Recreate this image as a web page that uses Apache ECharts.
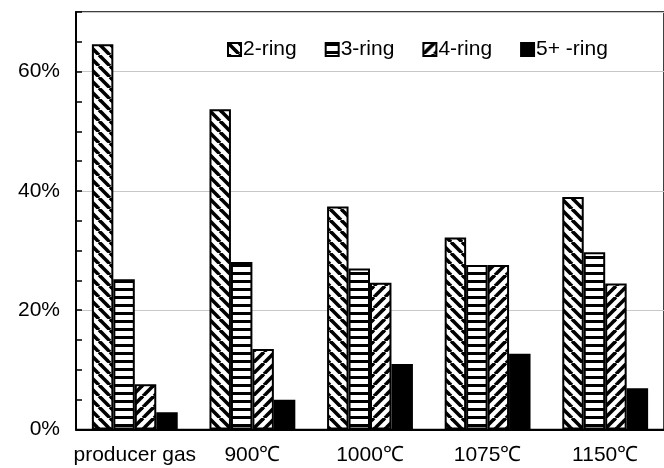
<!DOCTYPE html>
<html>
<head>
<meta charset="utf-8">
<script src="https://cdn.jsdelivr.net/npm/echarts@6/dist/echarts.min.js"></script>
<style>
html,body{margin:0;padding:0;background:#fff;}
#chart{width:664px;height:468px;}
</style>
</head>
<body>
<div id="chart"></div>
<script>
var categories = ['producer gas', '900\u2103', '1000\u2103', '1075\u2103', '1150\u2103'];
var seriesNames = ['2-ring', '3-ring', '4-ring', '5+ -ring'];
var twoRing = [64.6, 53.7, 37.4, 32.2, 39.0];
var threeRing = [25.2, 28.1, 27.0, 27.6, 29.7];
var fourRing = [7.6, 13.5, 24.6, 27.6, 24.5];
var fivePlus = [2.9, 5.0, 11.0, 12.7, 6.9];
var yTickLabels = [0, 20, 40, 60];

function makePattern(kind) {
  var s = kind === 'h' ? 8 : 11;
  var c = document.createElement('canvas');
  c.width = s; c.height = s;
  var ctx = c.getContext('2d');
  ctx.fillStyle = '#fff';
  ctx.fillRect(0, 0, s, s);
  ctx.strokeStyle = '#000';
  ctx.fillStyle = '#000';
  if (kind === 'h') {
    ctx.fillRect(0, 0, s, 3);
  } else {
    ctx.lineWidth = 3.6;
    for (var i = -1; i <= 1; i++) {
      var x0 = i * s;
      ctx.beginPath();
      if (kind === 'back') {
        ctx.moveTo(x0, 0); ctx.lineTo(x0 + s, s);
      } else {
        ctx.moveTo(x0, s); ctx.lineTo(x0 + s, 0);
      }
      ctx.stroke();
    }
  }
  return { image: c, repeat: 'repeat' };
}

var fills = [makePattern('back'), makePattern('h'), makePattern('fwd'), '#000'];
var dataSets = [twoRing, threeRing, fourRing, fivePlus];

var font = 'Liberation Sans, Arial, sans-serif';
var fs = 21;
var chart = echarts.init(document.getElementById('chart'), null, { renderer: 'canvas' });

var series = seriesNames.map(function (n, i) {
  return {
    name: n,
    type: 'bar',
    data: dataSets[i],
    barGap: '0%',
    barCategoryGap: '27%',
    itemStyle: { color: fills[i], borderColor: '#000', borderWidth: 2 },
    emphasis: { disabled: true },
    animation: false
  };
});

chart.setOption({
  animation: false,
  grid: { left: 76, right: -7, top: 12, bottom: 38.5, show: true, borderColor: '#000', borderWidth: 1.5, containLabel: false },
  legend: {
    left: 222, top: 34,
    itemWidth: 13, itemHeight: 13, itemGap: 28,
    icon: 'rect',
    textStyle: { fontFamily: font, fontSize: fs, color: '#000', padding: [0, 0, 0, -3] },
    data: seriesNames
  },
  xAxis: {
    type: 'category',
    data: categories,
    axisLine: { lineStyle: { color: '#000', width: 2 } },
    axisTick: { show: false },
    axisLabel: { color: '#000', fontFamily: font, fontSize: fs, margin: 15, interval: 0 }
  },
  yAxis: [{
    type: 'value', min: 0, max: 70, interval: 20,
    axisLine: { show: true, lineStyle: { color: '#000', width: 2 } },
    axisTick: { show: false },
    splitLine: { show: true, lineStyle: { color: '#c8c8c8', width: 1 } },
    axisLabel: {
      color: '#000', fontFamily: font, fontSize: fs, margin: 16,
      formatter: function (v) { return yTickLabels.indexOf(v) >= 0 ? v + '%' : ''; }
    }
  }, {
    type: 'value', min: 0, max: 70, interval: 5, position: 'left',
    axisLine: { show: false },
    axisTick: { show: true, inside: true, length: 6, lineStyle: { color: '#000', width: 1.5 } },
    splitLine: { show: false },
    axisLabel: { show: false }
  }],
  series: series
});
</script>
</body>
</html>
